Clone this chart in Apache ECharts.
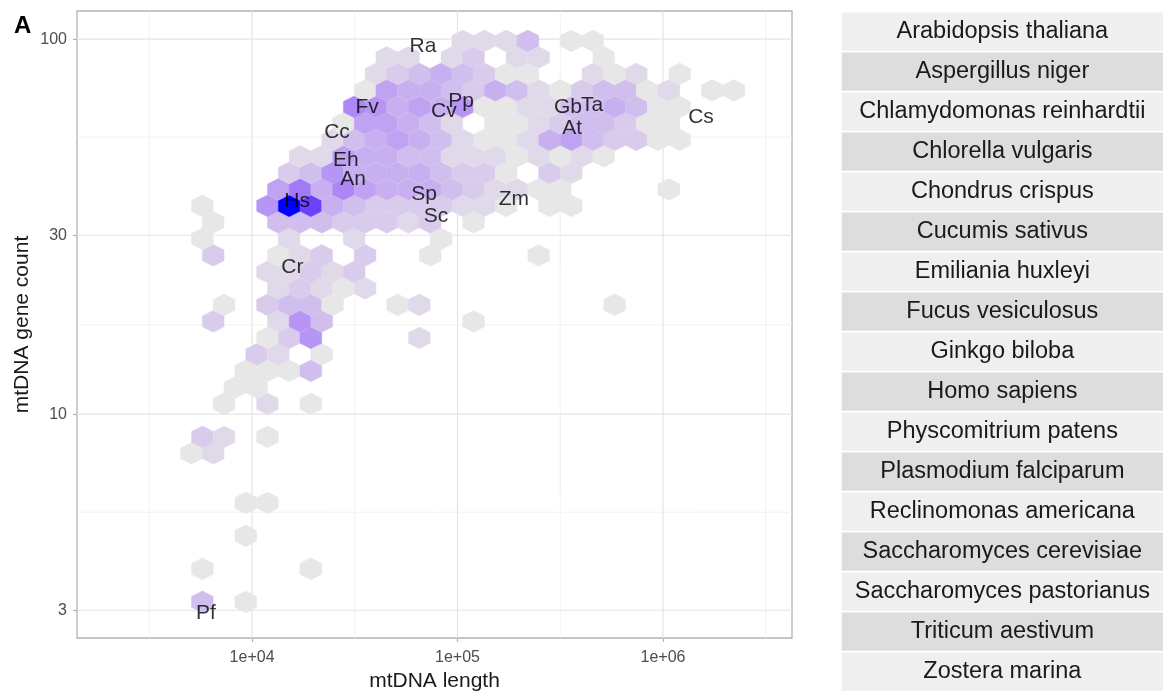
<!DOCTYPE html>
<html>
<head>
<meta charset="utf-8">
<script src="https://cdn.jsdelivr.net/npm/echarts@6/dist/echarts.min.js"></script>
<style>
html,body{margin:0;padding:0;background:#ffffff;}
#c{width:1163px;height:693px;}
</style>
</head>
<body>
<div id="c"></div>
<script>
// ---------- DATA ----------
// Hexagonal bins (log10 mtDNA length, log10 gene count): lattice origin and bin width
const binX0 = 3.7582, binDX = 0.1056, binY0 = 0.4995, binDY = 0.044;
// rows of bins: [row index, [[column index, count], ...]]  (odd rows are shifted by half a bin)
const hexRows = [
  [0,  [[0,4],[2,1]]],
  [2,  [[0,1],[5,1]]],
  [4,  [[2,1]]],
  [6,  [[2,1],[3,1]]],
  [9,  [[-1,1],[0,2]]],
  [10, [[0,3],[1,2],[3,1]]],
  [12, [[1,1],[3,2],[5,1]]],
  [13, [[1,1],[2,1]]],
  [14, [[2,1],[3,1],[4,1],[5,4]]],
  [15, [[2,3],[3,2],[5,1]]],
  [16, [[3,1],[4,3],[5,7],[10,2]]],
  [17, [[0,3],[3,2],[4,7],[5,4],[12,1]]],
  [18, [[1,1],[3,3],[4,4],[5,4],[6,1],[9,1],[10,2],[19,1]]],
  [19, [[3,2],[4,3],[5,2],[6,1],[7,2]]],
  [20, [[3,2],[4,2],[5,3],[6,2],[7,3]]],
  [21, [[0,3],[3,1],[4,2],[5,3],[7,3],[10,1],[15,1]]],
  [22, [[0,1],[4,2],[7,2],[11,1]]],
  [23, [[0,1],[3,4],[4,4],[5,4],[6,3],[7,3],[8,3],[9,2],[10,3],[12,1]]],
  [24, [[0,1],[3,7],[4,16],[5,13],[6,5],[7,4],[8,3],[9,3],[10,3],[11,3],[12,2],[13,2],[14,1],[16,1],[17,1]]],
  [25, [[3,6],[4,9],[5,5],[6,8],[7,6],[8,5],[9,5],[10,5],[11,4],[12,3],[13,2],[14,2],[15,1],[16,1],[21,1]]],
  [26, [[4,3],[5,4],[6,7],[7,5],[8,5],[9,5],[10,5],[11,4],[12,3],[13,3],[14,1],[16,3],[17,2]]],
  [27, [[4,2],[5,2],[6,6],[7,5],[8,5],[9,4],[10,4],[11,2],[12,2],[13,2],[14,1],[15,2],[16,1],[17,2],[18,1]]],
  [28, [[6,2],[7,4],[8,5],[9,6],[10,5],[11,4],[12,2],[13,1],[14,1],[15,2],[16,5],[17,6],[18,4],[19,3],[20,3],[21,1],[22,1]]],
  [29, [[6,1],[7,6],[8,6],[9,5],[10,4],[11,2],[13,1],[14,1],[15,2],[16,3],[17,4],[18,4],[19,3],[20,1],[21,1]]],
  [30, [[7,8],[8,7],[9,5],[10,6],[11,5],[12,7],[13,1],[14,1],[15,2],[16,2],[17,4],[18,4],[19,5],[20,4],[21,1],[22,1]]],
  [31, [[7,1],[8,6],[9,5],[10,5],[11,4],[12,3],[13,5],[14,4],[15,2],[16,1],[17,3],[18,4],[19,4],[20,1],[21,2],[23,1],[24,1]]],
  [32, [[8,2],[9,3],[10,4],[11,5],[12,4],[13,3],[14,1],[15,1],[18,2],[19,1],[20,2],[22,1]]],
  [33, [[8,2],[9,2],[11,2],[12,3],[14,2],[15,2],[18,1]]],
  [34, [[12,2],[13,2],[14,2],[15,4],[17,1],[18,1]]]
];

// labelled species (abbreviation, mtDNA length in bp, gene count)
const labelNames = ['Ra','Fv','Pp','Cv','Cc','Gb','Ta','At','Cs','Eh','An','Hs','Sp','Sc','Zm','Cr','Pf'];
const labelLength = [67900,36300,104000,85900,25900,345000,452000,361000,1531000,28600,31000,16569,68700,78500,188000,15700,5967];
const labelGenes  = [95.7,65.9,68.4,64.3,56.5,65.9,66.7,57.9,61.9,47.5,42.4,37,38.6,33.7,37.4,24.7,2.95];

// axis ticks (raw values)
const xTickValues = [1e4, 1e5, 1e6];
const xMinorValues = [Math.pow(10,3.5), Math.pow(10,4.5), Math.pow(10,5.5), Math.pow(10,6.5)];
const yTickValues = [3, 10, 30, 100];
const yMinorValues = [Math.sqrt(3*10), Math.sqrt(10*30), Math.sqrt(30*100)];
const xRange = [1406, 4246000];
const yRange = [2.53, 118.9];

// species table on the right
const species = ['Arabidopsis thaliana','Aspergillus niger','Chlamydomonas reinhardtii','Chlorella vulgaris',
  'Chondrus crispus','Cucumis sativus','Emiliania huxleyi','Fucus vesiculosus','Ginkgo biloba','Homo sapiens',
  'Physcomitrium patens','Plasmodium falciparum','Reclinomonas americana','Saccharomyces cerevisiae',
  'Saccharomyces pastorianus','Triticum aestivum','Zostera marina'];

// ---------- COLOUR SCALE (Lab interpolation, like ggplot gradient) ----------
const LOW = '#E7E7E7', HIGH = '#0000FF';
function hexToRgb(h){h=h.replace('#','');return [parseInt(h.substr(0,2),16),parseInt(h.substr(2,2),16),parseInt(h.substr(4,2),16)];}
function s2l(c){c/=255;return c<=0.04045?c/12.92:Math.pow((c+0.055)/1.055,2.4);}
function l2s(c){const v=c<=0.0031308?12.92*c:1.055*Math.pow(c,1/2.4)-0.055;return Math.round(Math.max(0,Math.min(1,v))*255);}
function rgbToLab(rgb){
  const R=s2l(rgb[0]),G=s2l(rgb[1]),B=s2l(rgb[2]);
  const X=(0.4124*R+0.3576*G+0.1805*B)/0.95047,Y=(0.2126*R+0.7152*G+0.0722*B),Z=(0.0193*R+0.1192*G+0.9505*B)/1.08883;
  const f=t=>t>0.008856?Math.cbrt(t):7.787*t+16/116;
  const fx=f(X),fy=f(Y),fz=f(Z);
  return [116*fy-16,500*(fx-fy),200*(fy-fz)];
}
function labToRgb(lab){
  const fy=(lab[0]+16)/116,fx=fy+lab[1]/500,fz=fy-lab[2]/200;
  const fi=t=>t*t*t>0.008856?t*t*t:(t-16/116)/7.787;
  const X=fi(fx)*0.95047,Y=fi(fy),Z=fi(fz)*1.08883;
  const R=3.2406*X-1.5372*Y-0.4986*Z,G=-0.9689*X+1.8758*Y+0.0415*Z,B=0.0557*X-0.2040*Y+1.0570*Z;
  return 'rgb('+l2s(R)+','+l2s(G)+','+l2s(B)+')';
}
const labLow = rgbToLab(hexToRgb(LOW)), labHigh = rgbToLab(hexToRgb(HIGH));
let cMin = Infinity, cMax = -Infinity;
hexRows.forEach(r => r[1].forEach(c => {cMin=Math.min(cMin,c[1]);cMax=Math.max(cMax,c[1]);}));
function fillFor(n){
  const t=(n-cMin)/(cMax-cMin);
  return labToRgb([0,1,2].map(i=>labLow[i]+(labHigh[i]-labLow[i])*t));
}

// ---------- BUILD SERIES DATA ----------
const L10 = Math.log10;
const hexData = [];
hexRows.forEach(([j, cells]) => cells.forEach(([k, n]) => {
  hexData.push([binX0 + (k + (j % 2 ? 0.5 : 0)) * binDX, binY0 + j * binDY, n]);
}));
const gridData = [];
xTickValues.forEach(v => gridData.push([L10(v), 0, 1]));
xMinorValues.forEach(v => gridData.push([L10(v), 0, 0]));
yTickValues.forEach(v => gridData.push([L10(v), 1, 1]));
yMinorValues.forEach(v => gridData.push([L10(v), 1, 0]));
const labelData = labelNames.map((n,i) => ({name:n, value:[L10(labelLength[i]), L10(labelGenes[i])]}));

const FONT = '"Liberation Sans", Arial, Helvetica, sans-serif';

const chart = echarts.init(document.getElementById('c'), null, {renderer:'canvas'});
chart.setOption({
  animation: false,
  backgroundColor: '#ffffff',
  textStyle: {fontFamily: FONT},
  title: {text: 'A', left: 9, top: 9, textStyle: {fontSize: 24, fontWeight: 'bold', color: '#000', fontFamily: FONT}},
  grid: [
    {left: 77, top: 11, width: 715, height: 627, show: true, backgroundColor: '#ffffff',
     borderColor: '#B3B3B3', borderWidth: 1.3, containLabel: false, outerBoundsMode: 'none'},
    {left: 841.7, top: 11.7, width: 321.3, height: 680, containLabel: false, outerBoundsMode: 'none'}
  ],
  xAxis: [
    {type: 'value', gridIndex: 0, min: L10(xRange[0]), max: L10(xRange[1]),
     name: 'mtDNA length', nameLocation: 'middle', nameGap: 33,
     nameTextStyle: {fontSize: 21, color: '#1A1A1A', fontFamily: FONT},
     axisLine: {show: false}, splitLine: {show: false},
     axisTick: {show: true, length: 4, lineStyle: {color: '#B3B3B3', width: 1.2}, customValues: xTickValues.map(L10)},
     axisLabel: {show: true, margin: 12, fontSize: 16, color: '#4D4D4D', fontFamily: FONT,
       customValues: xTickValues.map(L10),
       formatter: v => { const e = Math.round(v); return '1e+' + (e < 10 ? '0' + e : e); }}},
    {type: 'value', gridIndex: 1, min: 0, max: 1, show: false}
  ],
  yAxis: [
    {type: 'value', gridIndex: 0, min: L10(yRange[0]), max: L10(yRange[1]),
     name: 'mtDNA gene count', nameLocation: 'middle', nameGap: 44, nameMoveOverlap: false,
     nameTextStyle: {fontSize: 21, color: '#1A1A1A', fontFamily: FONT},
     axisLine: {show: false}, splitLine: {show: false},
     axisTick: {show: true, length: 4, lineStyle: {color: '#B3B3B3', width: 1.2}, customValues: yTickValues.map(L10)},
     axisLabel: {show: true, margin: 10, fontSize: 16, color: '#4D4D4D', fontFamily: FONT,
       customValues: yTickValues.map(L10),
       formatter: v => String(Math.round(Math.pow(10, v)))}},
    {type: 'category', gridIndex: 1, data: species, inverse: true, show: false}
  ],
  series: [
    {
      type: 'custom', name: 'grid', xAxisIndex: 0, yAxisIndex: 0, silent: true, z: 1, clip: false,
      data: gridData,
      renderItem: function (params, api) {
        const cs = params.coordSys;
        const v = api.value(0), o = api.value(1), m = api.value(2);
        let shape;
        if (o === 0) {
          const x = api.coord([v, L10(yRange[0])])[0];
          shape = {x1: x, y1: cs.y, x2: x, y2: cs.y + cs.height};
        } else {
          const y = api.coord([L10(xRange[0]), v])[1];
          shape = {x1: cs.x, y1: y, x2: cs.x + cs.width, y2: y};
        }
        return {type: 'line', shape: shape,
          style: {stroke: m ? '#E4E4E4' : '#EFEFEF', lineWidth: m ? 1.2 : 0.9}};
      }
    },
    {
      type: 'custom', name: 'hex', xAxisIndex: 0, yAxisIndex: 0, silent: true, z: 2,
      data: hexData,
      renderItem: function (params, api) {
        const cx = api.value(0), cy = api.value(1), n = api.value(2);
        const hx = binDX / 2, v1 = binDY * 0.332, v2 = binDY * 0.664;
        const verts = [[cx + hx, cy + v1], [cx + hx, cy - v1], [cx, cy - v2],
                       [cx - hx, cy - v1], [cx - hx, cy + v1], [cx, cy + v2]].map(p => api.coord(p));
        const col = fillFor(n);
        return {type: 'polygon', shape: {points: verts},
          style: {fill: col, stroke: col, lineWidth: 0.4}};
      }
    },
    {
      type: 'scatter', name: 'labels', xAxisIndex: 0, yAxisIndex: 0, silent: true, z: 5,
      symbolSize: 0, data: labelData,
      label: {show: true, position: 'inside', formatter: p => p.name,
        fontSize: 21, color: '#000000', fontFamily: FONT}
    },
    {
      type: 'bar', name: 'species', xAxisIndex: 1, yAxisIndex: 1, silent: true,
      data: species.map(() => 1), barCategoryGap: '4.3%',
      itemStyle: {color: p => (p.dataIndex % 2 === 0 ? '#EFEFEF' : '#DDDDDD')},
      label: {show: true, position: 'inside', formatter: p => p.name,
        fontSize: 23.5, color: '#1A1A1A', fontFamily: FONT}
    }
  ]
});
</script>
</body>
</html>
